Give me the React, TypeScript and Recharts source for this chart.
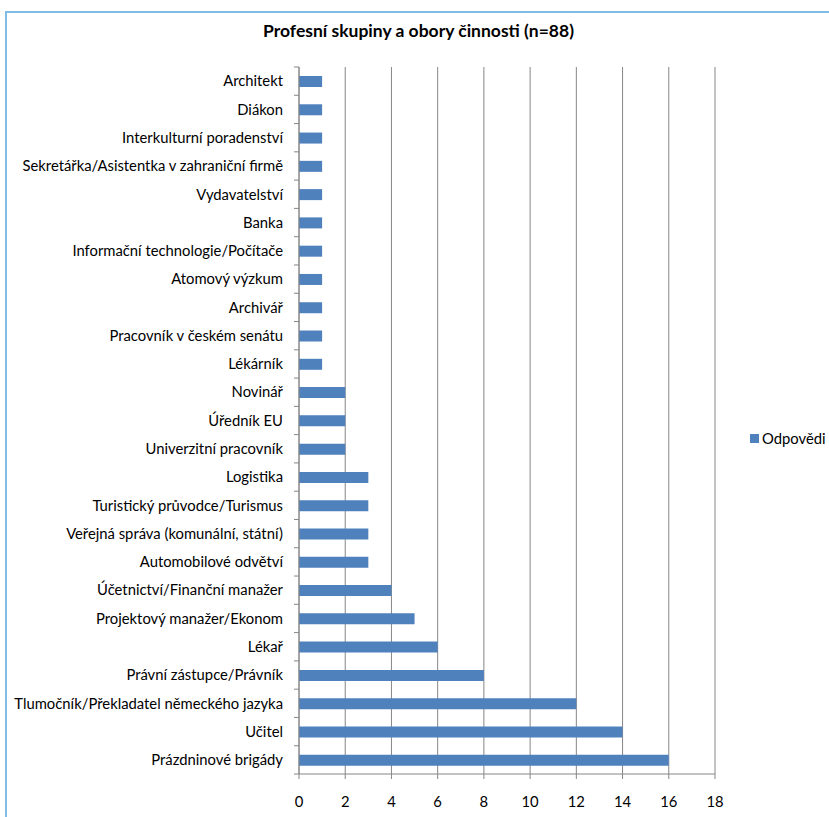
import { Bar, BarChart, CartesianGrid, XAxis, YAxis } from "recharts";

const categories = [
  "Architekt",
  "Diákon",
  "Interkulturní poradenství",
  "Sekretářka/Asistentka v zahraniční firmě",
  "Vydavatelství",
  "Banka",
  "Informační technologie/Počítače",
  "Atomový výzkum",
  "Archivář",
  "Pracovník v českém senátu",
  "Lékárník",
  "Novinář",
  "Úředník EU",
  "Univerzitní pracovník",
  "Logistika",
  "Turistický průvodce/Turismus",
  "Veřejná správa (komunální, státní)",
  "Automobilové odvětví",
  "Účetnictví/Finanční manažer",
  "Projektový manažer/Ekonom",
  "Lékař",
  "Právní zástupce/Právník",
  "Tlumočník/Překladatel německého jazyka",
  "Učitel",
  "Prázdninové brigády",
];

const answers = [1, 1, 1, 1, 1, 1, 1, 1, 1, 1, 1, 2, 2, 2, 3, 3, 3, 3, 4, 5, 6, 8, 12, 14, 16];

const xTicks = [0, 2, 4, 6, 8, 10, 12, 14, 16, 18];

const title = "Profesní skupiny a obory činnosti (n=88)";
const seriesName = "Odpovědi";

const FONT = "Lato, 'Open Sans', sans-serif";
const BLUE = "#4f81bd";
const AXIS = "#868686";

const W = 829;
const H = 817;
const M = { top: 67, right: 114, bottom: 13, left: 0 };
const Y_WIDTH = 299;
const X_HEIGHT = 30;
const BAND = (H - M.top - M.bottom - X_HEIGHT) / categories.length;

// label plus Excel-style tick marks between categories
function CategoryTick(props: any) {
  const { x, y, payload, index } = props;
  const ax = M.left + Y_WIDTH;
  const top = y - BAND / 2;
  return (
    <g>
      <text x={x} y={y} dy="0.355em" textAnchor="end" fontSize={14.8} fill="#000" fontFamily={FONT}>
        {payload.value}
      </text>
      <line x1={ax - 5} x2={ax} y1={top} y2={top} stroke={AXIS} />
      {index === categories.length - 1 && (
        <line x1={ax - 5} x2={ax} y1={y + BAND / 2} y2={y + BAND / 2} stroke={AXIS} />
      )}
    </g>
  );
}

export default function App() {
  const data = categories.map((name, i) => ({ name, value: answers[i] }));

  return (
    <div
      style={{
        position: "absolute",
        left: 0,
        top: 0,
        width: W,
        height: H,
        background: "#fff",
        overflow: "hidden",
        fontFamily: FONT,
      }}
    >
      <div
        style={{
          position: "absolute",
          left: 5,
          top: 11,
          width: 900,
          height: 900,
          border: "2px solid #7fbde6",
        }}
      />
      <div
        style={{
          position: "absolute",
          left: 0,
          width: W,
          top: 20,
          textAlign: "center",
          fontSize: 17.5,
          fontWeight: "bold",
          color: "#000",
          paddingLeft: 4,
        }}
      >
        {title}
      </div>
      <div style={{ position: "absolute", left: 0, top: 0 }}>
        <BarChart width={W} height={H} data={data} layout="vertical" margin={M}>
          <CartesianGrid vertical horizontal={false} stroke={AXIS} />
          <XAxis
            type="number"
            domain={[0, 18]}
            ticks={xTicks}
            interval={0}
            height={X_HEIGHT}
            axisLine={{ stroke: AXIS }}
            tickLine={{ stroke: AXIS }}
            tickSize={5}
            tickMargin={17}
            tick={{ fontSize: 14.8, fill: "#000", fontFamily: FONT }}
          />
          <YAxis
            type="category"
            dataKey="name"
            width={Y_WIDTH}
            interval={0}
            axisLine={{ stroke: AXIS }}
            tickLine={false}
            tickSize={6}
            tickMargin={10}
            tick={CategoryTick}
          />
          <Bar dataKey="value" name={seriesName} fill={BLUE} barSize={11} isAnimationActive={false} />
        </BarChart>
      </div>
      <div
        style={{
          position: "absolute",
          left: 750,
          top: 429,
          display: "flex",
          alignItems: "center",
          fontSize: 14.8,
          color: "#000",
        }}
      >
        <span style={{ width: 9, height: 9, background: BLUE, marginRight: 3, display: "inline-block" }} />
        {seriesName}
      </div>
    </div>
  );
}
